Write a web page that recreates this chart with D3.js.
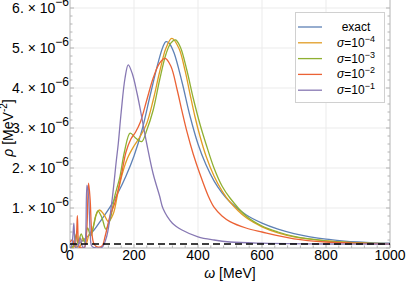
<!DOCTYPE html>
<html>
<head>
<meta charset="utf-8">
<script src="https://cdn.jsdelivr.net/npm/d3@7"></script>
<style>
  body { margin: 0; background: #fff; }
  svg { display: block; font-family: "Liberation Sans", Arial, sans-serif; }
</style>
</head>
<body>
<div id="chart"></div>
<script>
// omega [MeV], rho [1e-6 MeV^-2]
var exact = [[0,0],[10,0.03],[25,0.1],[50,0.25],[75,0.45],[100,0.73],[125,1.02],[150,1.38],[175,1.8],[200,2.3],[225,2.95],[250,3.8],[275,4.62],[290,5.02],[300,5.16],[310,5.12],[325,4.88],[350,4.15],[375,3.3],[400,2.6],[425,2.08],[450,1.68],[475,1.38],[500,1.15],[550,0.83],[600,0.62],[650,0.47],[700,0.36],[750,0.28],[800,0.22],[850,0.18],[900,0.15],[950,0.13],[1000,0.12]];

var sig4 = [[0,0],[10,0.02],[20,0.05],[30,0.02],[40,0.25],[50,0.1],[60,0.35],[70,0.45],[80,0.8],[92,0.95],[105,0.85],[120,0.66],[135,0.85],[150,1.4],[165,1.9],[180,2.25],[200,2.55],[220,2.8],[240,3.12],[260,3.7],[280,4.4],[300,5.0],[318,5.24],[340,5.0],[360,4.42],[375,3.85],[390,3.3],[406,2.8],[425,2.3],[450,1.8],[475,1.43],[500,1.15],[550,0.76],[600,0.53],[650,0.38],[700,0.28],[800,0.18],[900,0.13],[1000,0.11]];

var sig3 = [[0,0],[10,0.05],[20,0.35],[25,0.1],[35,0.35],[45,0.15],[55,0.5],[65,0.3],[75,0.6],[87,0.93],[100,0.75],[112,0.47],[125,0.7],[140,1.3],[156,1.78],[170,2.4],[188,2.87],[205,2.75],[224,2.66],[240,2.95],[260,3.45],[280,4.2],[300,4.85],[315,5.12],[330,5.2],[345,5.02],[365,4.45],[385,3.75],[406,3.1],[425,2.6],[450,2.0],[475,1.55],[500,1.25],[550,0.8],[600,0.55],[650,0.4],[700,0.29],[800,0.18],[900,0.13],[1000,0.11]];

var sig2 = [[0,0.15],[8,0.2],[15,0.05],[20,0.3],[23,0.81],[26,0.2],[30,0.02],[45,0.02],[52,0.4],[58,1.62],[63,1.2],[68,0.4],[75,0.1],[85,0.03],[100,0.05],[110,0.3],[125,0.8],[141,1.15],[160,1.8],[175,2.4],[190,2.72],[205,2.9],[220,3.15],[240,3.7],[260,4.25],[280,4.62],[297,4.74],[315,4.55],[335,3.95],[350,3.42],[365,2.92],[385,2.35],[406,1.85],[432,1.3],[450,1.02],[475,0.8],[500,0.66],[550,0.5],[600,0.4],[700,0.23],[800,0.15],[900,0.12],[1000,0.1]];

var sig1 = [[0,0],[5,0.05],[9,0.3],[12,0.62],[15,0.2],[18,0],[25,0.05],[32,0.25],[38,0.05],[45,0],[49,0.3],[53,1.57],[58,1.3],[63,0.4],[68,0.05],[80,0],[100,0.02],[115,0.3],[130,1.1],[145,2.2],[151,2.62],[160,3.4],[172,4.25],[182,4.58],[195,4.35],[210,3.85],[220,3.45],[240,2.6],[260,1.85],[280,1.3],[291,0.98],[320,0.62],[350,0.45],[400,0.28],[450,0.2],[500,0.15],[600,0.12],[800,0.1],[1000,0.1]];

var seriesNames = ["exact", "σ=10-4", "σ=10-3", "σ=10-2", "σ=10-1"];
var seriesExp = [null, "−4", "−3", "−2", "−1"];
var seriesColors = ["#5e81b5", "#e19c24", "#8fb032", "#eb6235", "#8778b3"];
var seriesData = [exact, sig4, sig3, sig2, sig1];

var xTicks = [0, 200, 400, 600, 800, 1000];
var yTicks = [0, 1, 2, 3, 4, 5, 6];
var baseline = 0.1;

function drawChart() {
  var svgWidth = 407, svgHeight = 286;
  var plotLeft = 70, plotRight = 390, plotTop = 8, plotBottom = 248;

  var svg = d3.select("#chart").append("svg")
    .attr("width", svgWidth)
    .attr("height", svgHeight);

  var x = d3.scaleLinear().domain([0, 1000]).range([plotLeft, plotRight]);
  var y = d3.scaleLinear().domain([0, 6]).range([plotBottom, plotTop]);

  // grid lines
  svg.append("g").selectAll("line")
    .data(xTicks.slice(1, -1))
    .enter().append("line")
    .attr("x1", d => x(d)).attr("x2", d => x(d))
    .attr("y1", 0).attr("y2", plotBottom)
    .attr("stroke", "#ebebeb").attr("stroke-width", 1);

  svg.append("g").selectAll("line")
    .data(yTicks.slice(1))
    .enter().append("line")
    .attr("x1", plotLeft).attr("x2", plotRight)
    .attr("y1", d => y(d)).attr("y2", d => y(d))
    .attr("stroke", "#ebebeb").attr("stroke-width", 1);

  // frame
  var frameColor = "#b4b4b4";
  svg.append("path")
    .attr("d", `M${plotLeft},0V${plotBottom}H${plotRight}V0`)
    .attr("fill", "none").attr("stroke", frameColor).attr("stroke-width", 1);

  // ticks (inward)
  var xMinor = d3.range(0, 1001, 40).filter(d => d % 200 !== 0);
  var yMinor = d3.range(0, 6.01, 0.2).filter(d => Math.abs(d - Math.round(d)) > 0.01);
  var tickG = svg.append("g").attr("stroke", frameColor).attr("stroke-width", 1);
  xTicks.forEach(function(d) {
    tickG.append("line").attr("x1", x(d)).attr("x2", x(d)).attr("y1", plotBottom).attr("y2", plotBottom - 4);
  });
  xMinor.forEach(function(d) {
    tickG.append("line").attr("x1", x(d)).attr("x2", x(d)).attr("y1", plotBottom).attr("y2", plotBottom - 2.5);
  });
  yTicks.forEach(function(d) {
    tickG.append("line").attr("x1", plotLeft).attr("x2", plotLeft + 4).attr("y1", y(d)).attr("y2", y(d));
    tickG.append("line").attr("x1", plotRight).attr("x2", plotRight - 4).attr("y1", y(d)).attr("y2", y(d));
  });
  yMinor.forEach(function(d) {
    tickG.append("line").attr("x1", plotLeft).attr("x2", plotLeft + 2.5).attr("y1", y(d)).attr("y2", y(d));
    tickG.append("line").attr("x1", plotRight).attr("x2", plotRight - 2.5).attr("y1", y(d)).attr("y2", y(d));
  });

  // x tick labels
  svg.append("g").selectAll("text")
    .data(xTicks)
    .enter().append("text")
    .attr("x", d => x(d)).attr("y", 260)
    .attr("text-anchor", "middle")
    .attr("font-size", 14)
    .attr("fill", "#000")
    .text(d => d);

  // y tick labels
  var yLab = svg.append("g").selectAll("text")
    .data(yTicks)
    .enter().append("text")
    .attr("x", plotLeft - 1).attr("y", d => y(d) + 5)
    .attr("text-anchor", "end")
    .attr("font-size", 14)
    .attr("fill", "#000");
  yLab.each(function(d) {
    var t = d3.select(this);
    if (d === 0) { t.attr("x", plotLeft - 2).text("0"); return; }
    t.append("tspan").text(d + ". × 10");
    t.append("tspan").attr("dy", -7).attr("font-size", 12).text("−6");
  });

  // axis labels
  var xl = svg.append("text")
    .attr("x", (plotLeft + plotRight) / 2).attr("y", 278)
    .attr("text-anchor", "middle").attr("font-size", 14);
  xl.append("tspan").attr("font-style", "italic").text("ω");
  xl.append("tspan").text(" [MeV]");

  var yl = svg.append("text")
    .attr("transform", "translate(13,128) rotate(-90)")
    .attr("text-anchor", "middle").attr("font-size", 14);
  yl.append("tspan").attr("font-style", "italic").text("ρ");
  yl.append("tspan").text(" [MeV");
  yl.append("tspan").attr("dy", -6).attr("font-size", 10).text("-2");
  yl.append("tspan").attr("dy", 6).text("]");

  // curves
  var line = d3.line()
    .x(d => x(d[0]))
    .y(d => y(d[1]))
    .curve(d3.curveCatmullRom.alpha(0.5));

  svg.append("clipPath").attr("id", "clip")
    .append("rect").attr("x", plotLeft).attr("y", 0)
    .attr("width", plotRight - plotLeft).attr("height", plotBottom);

  var curves = svg.append("g").attr("clip-path", "url(#clip)");
  seriesData.forEach(function(data, i) {
    curves.append("path")
      .datum(data)
      .attr("d", line)
      .attr("fill", "none")
      .attr("stroke", seriesColors[i])
      .attr("stroke-width", 1.3)
      .attr("stroke-linejoin", "round");
  });

  // dashed reference line
  svg.append("line")
    .attr("x1", x(0)).attr("x2", x(1000))
    .attr("y1", y(baseline)).attr("y2", y(baseline))
    .attr("stroke", "#000").attr("stroke-width", 1.5)
    .attr("stroke-dasharray", "7,4");

  // legend
  var legend = svg.append("g");
  legend.append("rect")
    .attr("x", 295.5).attr("y", 12.5).attr("width", 89).attr("height", 90)
    .attr("fill", "#fff").attr("stroke", "#d0d0d0").attr("stroke-width", 1);

  seriesNames.forEach(function(name, i) {
    var ly = 27 + i * 15.8;
    legend.append("line")
      .attr("x1", 298).attr("x2", 322)
      .attr("y1", ly).attr("y2", ly)
      .attr("stroke", seriesColors[i]).attr("stroke-width", 1.3);
    var t = legend.append("text")
      .attr("x", 356).attr("y", ly + 4)
      .attr("text-anchor", "middle")
      .attr("font-size", 12);
    if (seriesExp[i] === null) {
      t.text(name);
    } else {
      t.append("tspan").attr("font-style", "italic").text("σ");
      t.append("tspan").text("=10");
      t.append("tspan").attr("dy", -5).attr("font-size", 9).text(seriesExp[i]);
    }
  });
}

drawChart();
</script>
</body>
</html>
